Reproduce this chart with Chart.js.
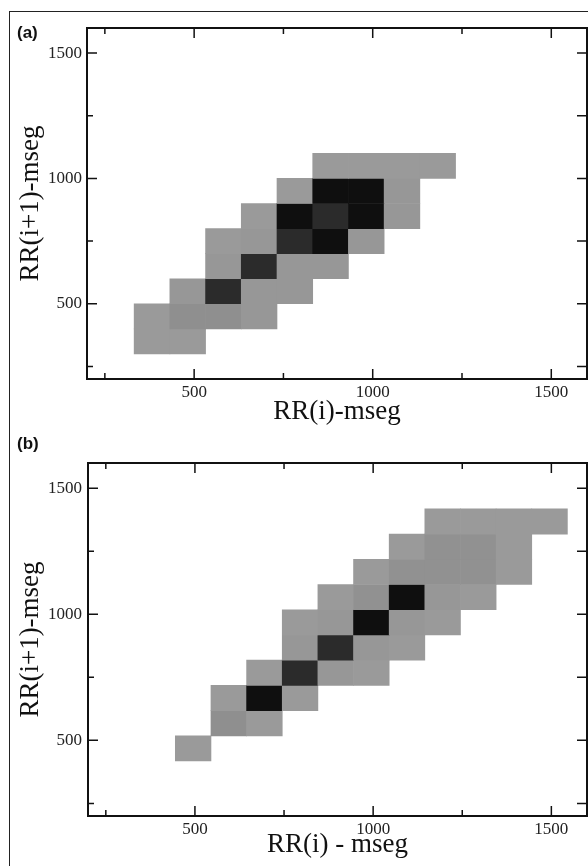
<!DOCTYPE html>
<html lang="en">
<head>
    <meta charset="UTF-8">
    <title>RR(i) vs RR(i+1) histograms</title>
    <style>
        body {
            margin: 0;
            width: 588px;
            height: 866px;
            position: relative;
            overflow: hidden;
            background: #ffffff;
        }
        .frame {
            position: absolute;
            left: 9px;
            top: 11px;
            width: 620px;
            height: 900px;
            border: 1px solid #222;
        }
        .tag {
            position: absolute;
            left: 17px;
            font: bold 17px "Liberation Sans", Arial, sans-serif;
            line-height: 17px;
            color: #111;
        }
        canvas {
            position: absolute;
            left: 0;
        }
    </style>
</head>
<body>
    <div class="frame"></div>
    <canvas id="chartA" width="588" height="430" style="top:0"></canvas>
    <canvas id="chartB" width="588" height="436" style="top:430px"></canvas>
    <div class="tag" style="top:24px">(a)</div>
    <div class="tag" style="top:435px">(b)</div>

    <script src="https://cdn.jsdelivr.net/npm/chart.js"></script>
    <script>
        // bin size of the 2D histograms (ms)
        const binSize = 100;

        // panel (a): bin centres and relative density per row (bottom row first)
        const aColCenters = [382, 482, 582, 682, 782, 882, 982, 1082, 1182];
        const aRowCenters = [350, 450, 550, 650, 750, 850, 950, 1050];
        const aDensity = [
            [10, 10, 0, 0, 0, 0, 0, 0, 0],
            [10, 17, 17, 12, 0, 0, 0, 0, 0],
            [0, 12, 82, 12, 12, 0, 0, 0, 0],
            [0, 0, 12, 82, 12, 12, 0, 0, 0],
            [0, 0, 10, 12, 82, 100, 12, 0, 0],
            [0, 0, 0, 10, 100, 82, 100, 12, 0],
            [0, 0, 0, 0, 10, 100, 100, 12, 0],
            [0, 0, 0, 0, 0, 10, 10, 10, 10]
        ];

        // panel (b)
        const bColCenters = [495, 595, 695, 795, 895, 995, 1095, 1195, 1295, 1395, 1495];
        const bRowCenters = [468, 568, 668, 768, 868, 968, 1068, 1168, 1268, 1368];
        const bDensity = [
            [10, 0, 0, 0, 0, 0, 0, 0, 0, 0, 0],
            [0, 17, 10, 0, 0, 0, 0, 0, 0, 0, 0],
            [0, 10, 100, 10, 0, 0, 0, 0, 0, 0, 0],
            [0, 0, 10, 82, 12, 10, 0, 0, 0, 0, 0],
            [0, 0, 0, 12, 82, 12, 10, 0, 0, 0, 0],
            [0, 0, 0, 10, 12, 100, 12, 10, 0, 0, 0],
            [0, 0, 0, 0, 10, 16, 100, 12, 10, 0, 0],
            [0, 0, 0, 0, 0, 10, 16, 16, 16, 10, 0],
            [0, 0, 0, 0, 0, 0, 10, 16, 16, 10, 0],
            [0, 0, 0, 0, 0, 0, 0, 10, 10, 10, 10]
        ];

        // axis ticks
        const majorTicks = [500, 1000, 1500];
        const allTicks = [250, 500, 750, 1000, 1250, 1500];
        const axisMin = 200;
        const axisMax = 1600;

        // density -> grey level (light grey for sparse bins, black for the densest)
        function shade(v) {
            const g = Math.round(154 - 139 * (v - 10) / 90);
            return `rgb(${g}, ${g}, ${g})`;
        }

        function buildCells(cols, rows, density) {
            const data = [];
            const colors = [];
            rows.forEach((yc, r) => {
                cols.forEach((xc, c) => {
                    const v = density[r][c];
                    if (!v) return;
                    data.push({ x: xc, y: [yc - binSize / 2, yc + binSize / 2] });
                    colors.push(shade(v));
                });
            });
            return { data, colors };
        }

        // inward ticks on all four sides plus the top/right frame lines
        const boxTicks = {
            id: 'boxTicks',
            afterDraw(chart) {
                const { ctx, chartArea: a, scales: { x, y } } = chart;
                ctx.save();
                ctx.strokeStyle = '#111';
                ctx.lineWidth = 2;
                ctx.beginPath();
                ctx.moveTo(a.left, a.top);
                ctx.lineTo(a.right, a.top);
                ctx.lineTo(a.right, a.bottom);
                ctx.stroke();
                ctx.lineWidth = 1.5;
                ctx.beginPath();
                allTicks.forEach(v => {
                    const len = majorTicks.includes(v) ? 10 : 6;
                    const px = x.getPixelForValue(v);
                    const py = y.getPixelForValue(v);
                    ctx.moveTo(px, a.bottom); ctx.lineTo(px, a.bottom - len);
                    ctx.moveTo(px, a.top); ctx.lineTo(px, a.top + len);
                    ctx.moveTo(a.left, py); ctx.lineTo(a.left + len, py);
                    ctx.moveTo(a.right, py); ctx.lineTo(a.right - 10, py);
                });
                ctx.stroke();
                ctx.restore();
            }
        };

        function makeChart(id, cells, opts) {
            const serif = '"Liberation Serif", "Times New Roman", serif';
            return new Chart(document.getElementById(id), {
                type: 'bar',
                data: {
                    datasets: [{
                        data: cells.data,
                        backgroundColor: cells.colors,
                        borderWidth: 0,
                        barPercentage: 1,
                        categoryPercentage: 1
                    }]
                },
                options: {
                    responsive: false,
                    animation: false,
                    layout: { padding: { top: opts.top, right: 1, left: 0, bottom: 0 } },
                    plugins: {
                        legend: { display: false },
                        tooltip: { enabled: false }
                    },
                    scales: {
                        x: {
                            type: 'linear',
                            offset: false,
                            min: axisMin,
                            max: axisMax,
                            afterBuildTicks: s => { s.ticks = majorTicks.map(v => ({ value: v })); },
                            afterFit: s => { s.height = opts.xHeight; },
                            grid: { display: false, drawTicks: false },
                            border: { display: true, width: 2, color: '#111' },
                            ticks: {
                                padding: 5,
                                color: '#222',
                                maxRotation: 0,
                                callback: v => String(v),
                                font: { family: serif, size: 17, lineHeight: 1 }
                            },
                            title: {
                                display: true,
                                text: opts.xTitle,
                                color: '#111',
                                padding: { top: 0, bottom: opts.xTitlePad },
                                font: { family: serif, size: 27, lineHeight: 1 }
                            }
                        },
                        y: {
                            type: 'linear',
                            min: axisMin,
                            max: axisMax,
                            afterBuildTicks: s => { s.ticks = majorTicks.map(v => ({ value: v })); },
                            afterFit: s => { s.width = opts.yWidth; },
                            grid: { display: false, drawTicks: false },
                            border: { display: true, width: 2, color: '#111' },
                            ticks: {
                                padding: opts.yTickPad,
                                color: '#222',
                                callback: v => String(v),
                                font: { family: serif, size: 17, lineHeight: 1 }
                            },
                            title: {
                                display: true,
                                text: 'RR(i+1)-mseg',
                                color: '#111',
                                padding: { top: 17, bottom: 0 },
                                font: { family: serif, size: 27, lineHeight: 1 }
                            }
                        }
                    }
                },
                plugins: [boxTicks]
            });
        }

        makeChart('chartA', buildCells(aColCenters, aRowCenters, aDensity), {
            top: 28, xHeight: 51, yWidth: 87, yTickPad: 5,
            xTitle: 'RR(i)-mseg', xTitlePad: 5
        });
        makeChart('chartB', buildCells(bColCenters, bRowCenters, bDensity), {
            top: 33, xHeight: 50, yWidth: 88, yTickPad: 6,
            xTitle: 'RR(i) - mseg', xTitlePad: 8
        });
    </script>
</body>
</html>
